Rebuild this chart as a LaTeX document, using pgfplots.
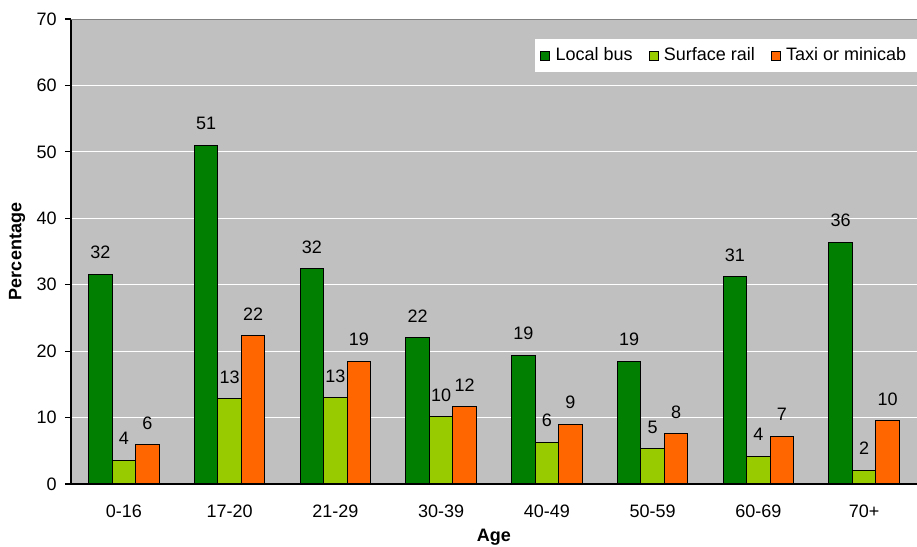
\documentclass[border=0pt]{standalone}
\usepackage{pgfplots}
\pgfplotsset{compat=1.18}
\usepackage{fontspec}
\setmainfont{Liberation Sans}
\definecolor{bgray}{HTML}{C0C0C0}
\definecolor{dgreen}{HTML}{007F00}
\definecolor{lgreen}{HTML}{99CC00}
\definecolor{orng}{HTML}{FF6600}
\newcommand{\fs}{\fontsize{13.5}{16}\selectfont}
\begin{document}
\fs
\begin{tikzpicture}
\begin{axis}[
  scale only axis,
  width=634.5pt, height=348.75pt,
  ybar=0pt, bar width=17.6pt,
  xmin=-0.5, xmax=7.5, ymin=0, ymax=70,
  xtick=data,
  xticklabels={0-16,17-20,21-29,30-39,40-49,50-59,60-69,70+},
  ytick={0,10,...,70},
  /pgf/number format/assume math mode=true,
  axis background/.style={fill=bgray},
  axis x line*=bottom, axis y line*=left,
  axis line style={black, line width=0.8pt},
  ymajorgrids, grid style={white, line width=0.8pt},
  tick align=outside, major tick length=4.5pt,
  ytick style={black, line width=0.8pt},
  xtick style={draw=none},
  tick label style={font=\fs},
  xticklabel style={anchor=center, yshift=-16pt},
  yticklabel style={anchor=east, inner sep=0pt, xshift=-6pt},
  xlabel={\textbf{Age}}, ylabel={\textbf{Percentage}},
  label style={font=\fs},
  xlabel style={at={(axis description cs:0.5,0)}, anchor=center, yshift=-40pt},
  ylabel style={at={(axis description cs:-0.0638,0.5)}, anchor=center},
  point meta=explicit symbolic,
  nodes near coords,
  every node near coord/.append style={anchor=south, inner sep=0pt, yshift=11pt, black, font=\fs},
  legend style={at={(1,1)}, anchor=north east, yshift=-15pt, draw=none, fill=white,
    legend columns=-1, font=\fs, inner xsep=4pt, inner ysep=4.5pt,
    /tikz/every even column/.append style={column sep=8pt},
    nodes={inner xsep=4pt}},
  legend image code/.code={\draw[#1, draw=black, line width=0.6pt] (0pt,-3.4pt) rectangle (6.8pt,3.4pt);},
]
\addplot[fill=dgreen, draw=black, line width=0.8pt] coordinates {
 (0,31.6)[32] (1,51.0)[51] (2,32.4)[32] (3,22.0)[22] (4,19.4)[19] (5,18.5)[19] (6,31.2)[31] (7,36.4)[36]};
\addplot[fill=lgreen, draw=black, line width=0.8pt] coordinates {
 (0,3.6)[4] (1,12.8)[13] (2,13.0)[13] (3,10.1)[10] (4,6.3)[6] (5,5.3)[5] (6,4.2)[4] (7,2.1)[2]};
\addplot[fill=orng, draw=black, line width=0.8pt] coordinates {
 (0,5.9)[6] (1,22.3)[22] (2,18.5)[19] (3,11.7)[12] (4,9.0)[9] (5,7.6)[8] (6,7.2)[7] (7,9.5)[10]};
\legend{Local bus, Surface rail, Taxi or minicab}
\draw[gray, line width=0.8pt] (rel axis cs:0,1) -- (rel axis cs:1,1);
\end{axis}
\pgfresetboundingbox
\path ([shift={(-53.25pt,-47.25pt)}]current axis.south west) rectangle ([shift={(0pt,14.25pt)}]current axis.north east);
\end{tikzpicture}
\end{document}
